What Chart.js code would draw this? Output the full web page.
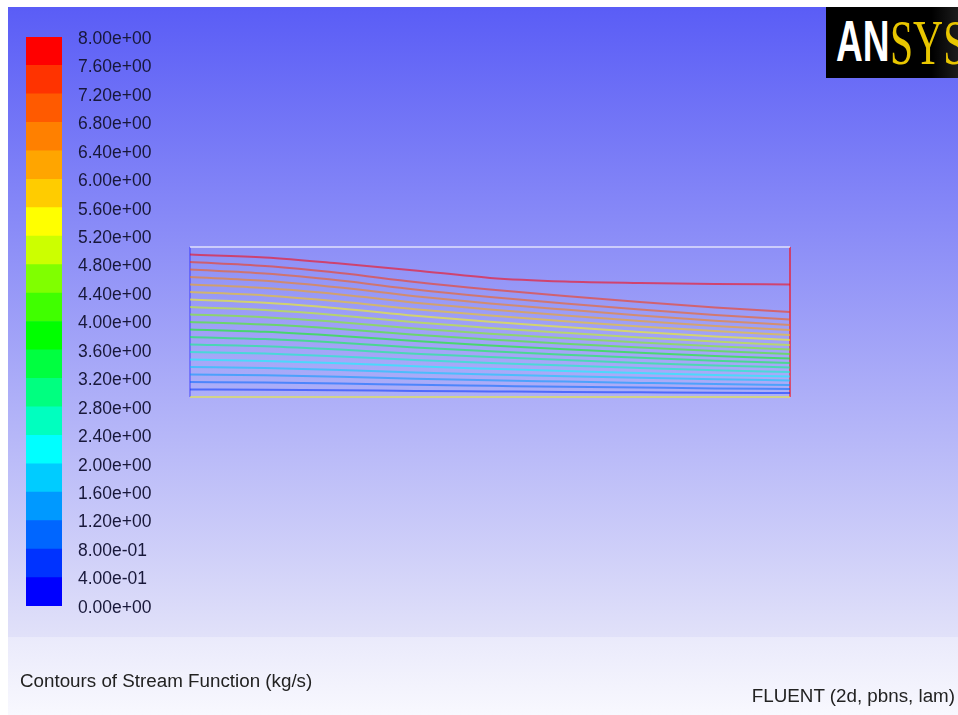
<!DOCTYPE html>
<html>
<head>
<meta charset="utf-8">
<script src="https://cdn.jsdelivr.net/npm/chart.js@4.4.1/dist/chart.umd.min.js"></script>
<style>
    html, body { margin: 0; padding: 0; background: #fff; }
    body { width: 958px; height: 715px; position: relative; overflow: hidden; font-family: "Liberation Sans", Arial, sans-serif; }
    #bg { position: absolute; left: 8px; top: 7px; width: 950px; height: 630px; background: linear-gradient(#5a5df6, #e1e1f9); }
    #bgLow { position: absolute; left: 8px; top: 637px; width: 950px; height: 78px; background: linear-gradient(#eaeafb, #f8f8fe); }
    #plotWrap { position: absolute; left: 0; top: 0; width: 958px; height: 715px; }
    #barWrap { position: absolute; left: 0; top: 0; width: 200px; height: 640px; }
    #logo { position: absolute; left: 826px; top: 7px; width: 132px; height: 71px; overflow: hidden; white-space: nowrap;
            background: linear-gradient(90deg, #000 0%, #000 80%, #1c1c1c 100%); }
    #logo span { position: absolute; top: 0; line-height: 71px; transform-origin: left center; }
    #logo .an { left: 10px; font: bold 58px "Liberation Sans", Arial, sans-serif; color: #fff; transform: scaleX(0.64); }
    #logo .sys { left: 64px; font: 63px "Liberation Serif", "Times New Roman", serif; color: #e8c600; transform: scaleX(0.66); }
    .caption { position: absolute; font-size: 18.8px; line-height: 22px; color: #222; white-space: nowrap; }
</style>
</head>
<body>
<div id="bg"></div>
<div id="bgLow"></div>
<div id="barWrap"><canvas id="colorBar"></canvas></div>
<div id="plotWrap"><canvas id="streamPlot"></canvas></div>
<div id="logo"><span class="an">AN</span><span class="sys">SYS</span></div>
<div class="caption" style="left:20px; top:670px;">Contours of Stream Function (kg/s)</div>
<div class="caption" style="right:3px; top:685px;">FLUENT (2d, pbns, lam)</div>

<script>
    "use strict";

    // legend colours, lowest band (0.0 - 0.4) first
    var bandColors = ['#0000ff', '#0033ff', '#0066ff', '#0099ff', '#00ccff', '#00ffff', '#00ffbf', '#00ff80', '#00ff40', '#00ff00',
                      '#40ff00', '#80ff00', '#ccff00', '#ffff00', '#ffcc00', '#ffa500', '#ff8000', '#ff5a00', '#ff3300', '#ff0000'];
    var legendTicks = [0, 0.4, 0.8, 1.2, 1.6, 2.0, 2.4, 2.8, 3.2, 3.6, 4.0, 4.4, 4.8, 5.2, 5.6, 6.0, 6.4, 6.8, 7.2, 7.6, 8.0];

    // domain outline
    var domainX = [0, 60];
    var domainY = [0, 15];

    // x stations where the streamlines were read
    var stationX = [0, 7.5, 15, 22.5, 30, 37.5, 45, 52.5, 60];

    // contour levels of the stream function
    var lineLevels = [7.6, 7.2, 6.8, 6.4, 6.0, 5.6, 5.2, 4.8, 4.4, 4.0, 3.6, 3.2, 2.8, 2.4, 2.0, 1.6, 1.2, 0.8, 0.4];

    // y of each streamline at the stations
    var lineY = [
        [14.25, 13.95, 13.35, 12.66, 11.91, 11.55, 11.40, 11.31, 11.25],
        [13.50, 13.10, 12.40, 11.50, 10.75, 10.10, 9.50, 8.95, 8.50],
        [12.75, 12.35, 11.65, 10.75, 10.00, 9.35, 8.75, 8.20, 7.75],
        [12.00, 11.62, 10.94, 10.08, 9.36, 8.74, 8.16, 7.63, 7.20],
        [11.25, 10.89, 10.25, 9.43, 8.75, 8.16, 7.61, 7.11, 6.70],
        [10.50, 10.16, 9.55, 8.78, 8.14, 7.58, 7.06, 6.59, 6.20],
        [9.75, 9.43, 8.86, 8.13, 7.52, 7.00, 6.51, 6.06, 5.70],
        [9.00, 8.70, 8.16, 7.48, 6.91, 6.42, 5.96, 5.54, 5.20],
        [8.25, 7.97, 7.48, 6.85, 6.33, 5.87, 5.45, 5.07, 4.75],
        [7.50, 7.24, 6.80, 6.22, 5.74, 5.32, 4.94, 4.59, 4.30],
        [6.75, 6.52, 6.11, 5.59, 5.16, 4.78, 4.43, 4.11, 3.85],
        [6.00, 5.79, 5.43, 4.96, 4.57, 4.23, 3.92, 3.63, 3.40],
        [5.25, 5.07, 4.74, 4.33, 3.99, 3.69, 3.41, 3.16, 2.95],
        [4.50, 4.34, 4.06, 3.70, 3.40, 3.14, 2.90, 2.68, 2.50],
        [3.75, 3.61, 3.38, 3.07, 2.82, 2.59, 2.39, 2.20, 2.05],
        [3.00, 2.89, 2.70, 2.46, 2.26, 2.08, 1.92, 1.77, 1.65],
        [2.25, 2.17, 2.02, 1.83, 1.67, 1.54, 1.41, 1.29, 1.20],
        [1.50, 1.44, 1.35, 1.22, 1.12, 1.02, 0.94, 0.86, 0.80],
        [0.75, 0.72, 0.67, 0.61, 0.56, 0.51, 0.47, 0.43, 0.40]
    ];

    function withAlpha(hex, a) {
        var r = parseInt(hex.substr(1, 2), 16), g = parseInt(hex.substr(3, 2), 16), b = parseInt(hex.substr(5, 2), 16);
        return 'rgba(' + r + ',' + g + ',' + b + ',' + a + ')';
    }

    // 8.00e+00 style labels
    function fluentFormat(v) {
        return Number(v).toExponential(2).replace(/e([+-])(\d)$/, 'e$10$2');
    }

    // ---- colour bar ----
    var barSets = [];
    for (var i = 0; i < bandColors.length; i++) {
        barSets.push({
            data: [legendTicks[i + 1] - legendTicks[i]],
            backgroundColor: bandColors[i],
            borderWidth: 0,
            barPercentage: 1,
            categoryPercentage: 1
        });
    }

    new Chart(document.getElementById('colorBar').getContext('2d'), {
        type: 'bar',
        data: {labels: ['psi'], datasets: barSets},
        options: {
            responsive: true,
            maintainAspectRatio: false,
            animation: false,
            layout: {padding: {left: 26, top: 37, bottom: 34, right: 18}},
            plugins: {legend: {display: false}, tooltip: {enabled: false}},
            scales: {
                x: {stacked: true, display: false},
                y: {
                    stacked: true, min: 0, max: 8, position: 'right',
                    grid: {display: false, drawTicks: false},
                    border: {display: false},
                    afterBuildTicks: function (s) {
                        s.ticks = legendTicks.map(function (v) { return {value: v}; });
                    },
                    afterFit: function (s) { s.width = 120; },
                    ticks: {
                        autoSkip: false,
                        padding: 16,
                        labelOffset: 2,
                        color: '#18183a',
                        font: {family: 'Liberation Sans', size: 17.5},
                        callback: fluentFormat
                    }
                }
            }
        }
    });

    // ---- streamlines ----
    var sets = [];
    for (var k = 0; k < lineLevels.length; k++) {
        var pts = [];
        for (var j = 0; j < stationX.length; j++)
            pts.push({x: stationX[j], y: lineY[k][j]});
        var col = bandColors[Math.round(lineLevels[k] / (legendTicks[1] - legendTicks[0]))];
        sets.push({data: pts, borderColor: withAlpha(col, 0.55), borderWidth: 2, cubicInterpolationMode: 'monotone'});
    }

    // domain edges
    sets.push({data: [{x: domainX[0], y: domainY[1]}, {x: domainX[1], y: domainY[1]}], borderColor: 'rgba(255,255,255,0.55)', borderWidth: 2});
    sets.push({data: [{x: domainX[0], y: domainY[0]}, {x: domainX[1], y: domainY[0]}], borderColor: 'rgba(255,255,0,0.45)', borderWidth: 2});
    sets.push({data: [{x: domainX[0], y: domainY[0]}, {x: domainX[0], y: domainY[1]}], borderColor: 'rgba(0,0,255,0.3)', borderWidth: 2});
    sets.push({data: [{x: domainX[1], y: domainY[0]}, {x: domainX[1], y: domainY[1]}], borderColor: 'rgba(255,0,0,0.55)', borderWidth: 2});

    new Chart(document.getElementById('streamPlot').getContext('2d'), {
        type: 'line',
        data: {datasets: sets},
        options: {
            responsive: true,
            maintainAspectRatio: false,
            animation: false,
            layout: {padding: {left: 190, right: 168, top: 247, bottom: 318}},
            plugins: {legend: {display: false}, tooltip: {enabled: false}},
            elements: {point: {radius: 0}},
            datasets: {line: {clip: false}},
            scales: {
                x: {type: 'linear', min: domainX[0], max: domainX[1], display: false},
                y: {type: 'linear', min: domainY[0], max: domainY[1], display: false}
            }
        }
    });
</script>
</body>
</html>
